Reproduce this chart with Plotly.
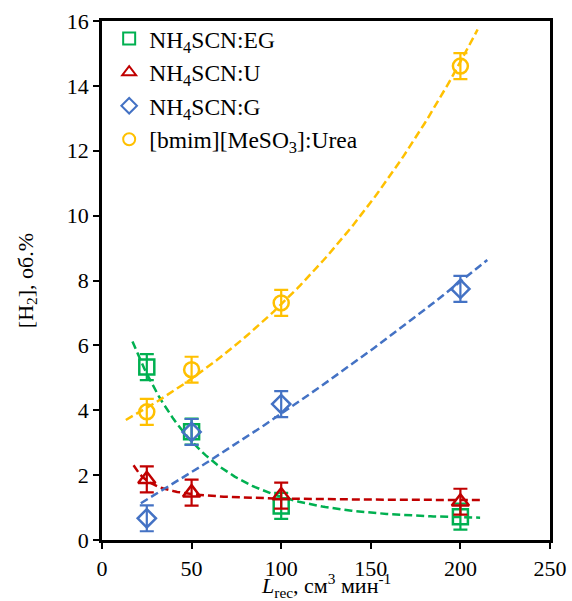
import numpy as np
import plotly.graph_objects as go

# Flow rate of recirculated gas, cm3/min
flow = [25, 50, 100, 200]

# Hydrogen content, vol.%
h2_eg = [5.33, 3.34, 1.05, 0.72]
h2_u = [1.87, 1.46, 1.37, 1.18]
h2_g = [0.67, 3.33, 4.19, 7.74]
h2_urea = [3.95, 5.25, 7.31, 14.61]

# Measurement uncertainty (+/-), vol.%
err_eg = [0.40, 0.40, 0.40, 0.40]
err_u = [0.40, 0.40, 0.40, 0.40]
err_g = [0.40, 0.40, 0.40, 0.40]
err_urea = [0.40, 0.40, 0.40, 0.40]

series_names = [
    "NH<sub>4</sub>SCN:EG",
    "NH<sub>4</sub>SCN:U",
    "NH<sub>4</sub>SCN:G",
    "[bmim][MeSO<sub>3</sub>]:Urea",
]

# Trend curves: (x_start, x_end, y0, A, k, kind)
#   "exp":   y = y0 + A*exp(k*x)
#   "power": y = y0 + A*x**k
trend_eg = (17.0, 211.0, 0.647, 8.383, -0.02508, "exp")
trend_u = (17.6, 211.0, 1.21, 107.6, -1.6, "power")
trend_g = (21.7, 215.0, -19.16, 19.59, 0.001627, "exp")
trend_urea = (13.3, 209.6, -1.144, 4.451, 0.00636, "exp")

colors = ["#00B050", "#C00000", "#4472C4", "#FFC000"]
symbols = ["square-open", "triangle-up-open", "diamond-open", "circle-open"]
sizes = [15, 15, 14, 15]

FONT = "Liberation Serif"


def trend_curve(spec):
    x0, x1, y0, a, k, kind = spec
    xs = np.linspace(x0, x1, 120)
    if kind == "exp":
        ys = y0 + a * np.exp(k * xs)
    else:
        ys = y0 + a * xs ** k
    return xs, ys


fig = go.Figure()

all_y = [h2_eg, h2_u, h2_g, h2_urea]
all_err = [err_eg, err_u, err_g, err_urea]
all_trend = [trend_eg, trend_u, trend_g, trend_urea]

for i in range(4):
    xs, ys = trend_curve(all_trend[i])
    fig.add_trace(go.Scatter(
        x=xs, y=ys, mode="lines",
        line=dict(color=colors[i], width=2.5, dash="8px,4px"),
        showlegend=False, hoverinfo="skip",
    ))

for i in range(4):
    fig.add_trace(go.Scatter(
        x=flow, y=all_y[i], mode="markers", name=series_names[i],
        legendgroup=str(i),
        marker=dict(symbol=symbols[i], size=sizes[i], color=colors[i],
                    line=dict(color=colors[i], width=2.5)),
        error_y=dict(type="data", array=all_err[i], visible=True,
                     color=colors[i], thickness=2.2, width=7),
    ))

# x-axis title placed in the bottom margin below the tick labels
fig.add_annotation(
    text="<i>L</i><sub>rec</sub>, см<sup>3</sup> мин<sup>-1</sup>",
    xref="paper", yref="paper", x=0.5, y=-0.088,
    xanchor="center", yanchor="middle", showarrow=False,
    font=dict(family=FONT, size=22, color="black"),
)

fig.update_layout(
    width=572, height=601,
    margin=dict(l=102, r=22, t=21, b=61),
    paper_bgcolor="white", plot_bgcolor="white",
    font=dict(family=FONT, size=22, color="black"),
    showlegend=True,
    legend=dict(
        x=0.016, y=1.008, xanchor="left", yanchor="top",
        bgcolor="rgba(0,0,0,0)", borderwidth=0,
        font=dict(family=FONT, size=23.5, color="black"),
        itemsizing="constant", tracegroupgap=0,
    ),
    xaxis=dict(
        range=[0, 250], tickvals=[0, 50, 100, 150, 200, 250],
        automargin=False,
        showgrid=False, zeroline=False,
        showline=True, linecolor="black", linewidth=2.5, mirror=True,
        ticks="outside", ticklen=6, tickwidth=2, tickcolor="black",
        ticklabelstandoff=1,
        tickfont=dict(family=FONT, size=22),
    ),
    yaxis=dict(
        range=[0, 16], tickvals=[0, 2, 4, 6, 8, 10, 12, 14, 16],
        automargin=False,
        showgrid=False, zeroline=False,
        showline=True, linecolor="black", linewidth=2.5, mirror=True,
        ticks="outside", ticklen=6, tickwidth=2, tickcolor="black",
        tickfont=dict(family=FONT, size=22),
        title=dict(text="[H<sub>2</sub>], об.%",
                   font=dict(family=FONT, size=22), standoff=28),
    ),
)

fig.write_html("out.html")
